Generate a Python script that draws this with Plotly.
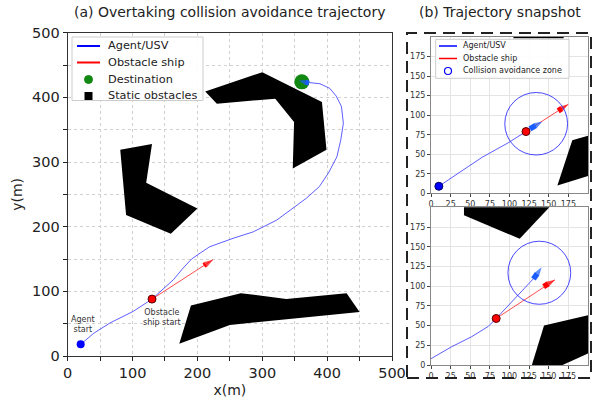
import plotly.graph_objects as go

W, H = 594, 406

# ---------------- data: main panel ----------------
agent_x = [20, 40, 65, 101, 130, 147, 163, 178, 191, 204, 219, 255, 286, 322, 343, 368, 388, 402, 415, 421, 425, 422, 414, 404, 389, 374, 362]
agent_y = [18, 35, 51, 69, 88, 103, 118, 136, 150, 159, 169, 182, 192, 210, 226, 244, 262, 283, 308, 334, 360, 386, 402, 414, 421, 423, 424]
obst_x = [130, 224]
obst_y = [88, 149]
obst_boat_x = [210, 224]
obst_boat_y = [140, 149]
dest_x = [361]
dest_y = [424]
agent_boat_main_x = [372, 356]
agent_boat_main_y = [422, 426]

obstacle_a_x = [212, 300, 392, 399, 347, 349, 320, 230]
obstacle_a_y = [409, 439, 393, 319, 290, 362, 398, 390]
obstacle_b_x = [81, 130, 121, 200, 159, 90]
obstacle_b_y = [319, 328, 268, 228, 189, 218]
obstacle_c_x = [190, 267, 277, 337, 430, 450, 250, 172]
obstacle_c_y = [78, 97, 96, 88, 97, 68, 48, 19]

main_ticks = list(range(0, 501, 50))
main_ticktext = [str(v) if v % 100 == 0 else "" for v in main_ticks]

main_legend_labels = ["Agent/USV", "Obstacle ship", "Destination", "Static obstacles"]
snap_legend_labels = ["Agent/USV", "Obstacle ship", "Collision avoidance zone"]

# ---------------- data: snapshot 1 ----------------
s1_agent_x = [10, 39, 65, 99, 121, 130]
s1_agent_y = [9, 29, 46, 65, 79, 86]
s1_boat_x = [126, 142]
s1_boat_y = [82.5, 92]
s1_obst_x = [121, 175]
s1_obst_y = [79, 114]
s1_obst_boat_x = [162, 175]
s1_obst_boat_y = [105.5, 114]
s1_zone = (134, 89, 40)
s1_obs1_x = [161, 180, 222, 222]
s1_obs1_y = [10, 68, 80, 29]
s1_obs2_x = [105, 169, 169, 105]
s1_obs2_y = [198.3, 198.3, 215, 215]

# ---------------- data: snapshot 2 ----------------
s2_agent_x = [0, 26, 52, 73, 83, 131]
s2_agent_y = [8, 23, 36, 49, 59, 110]
s2_boat_x = [130.5, 141]
s2_boat_y = [109, 124]
s2_obst_x = [83, 158]
s2_obst_y = [59, 108]
s2_obst_boat_x = [143.5, 158]
s2_obst_boat_y = [99.5, 108]
s2_zone = (138, 117, 40)
s2_obs1_x = [42, 113, 162, 42]
s2_obs1_y = [190, 160, 212, 212]
s2_obs2_x = [126, 144, 225, 225, 150]
s2_obs2_y = [-8, 50, 69, 26, -8]

snap_ticks = list(range(0, 176, 25))

BLUE_LINE = "rgba(40,40,255,0.75)"
RED_LINE = "rgba(255,0,0,0.7)"
BOAT_BLUE = "#1a5cff"

fig = go.Figure()


def poly(x, y, xa, ya):
    fig.add_trace(go.Scatter(x=x, y=y, fill="toself", fillcolor="black", mode="lines",
                             line=dict(width=0, color="black"), xaxis=xa, yaxis=ya,
                             showlegend=False, hoverinfo="skip"))


def boat(x, y, color, xa, ya, size=9, width=4):
    fig.add_trace(go.Scatter(x=x, y=y, mode="lines+markers", xaxis=xa, yaxis=ya,
                             line=dict(color=color, width=width),
                             marker=dict(symbol="arrow", size=[0, size], color=color,
                                         angleref="previous", line=dict(width=0)),
                             showlegend=False, hoverinfo="skip"))


# ---- main panel ----
for ox, oy in [(obstacle_a_x, obstacle_a_y), (obstacle_b_x, obstacle_b_y), (obstacle_c_x, obstacle_c_y)]:
    poly(ox, oy, "x", "y")

fig.add_trace(go.Scatter(x=agent_x, y=agent_y, mode="lines", line=dict(color=BLUE_LINE, width=1),
                         xaxis="x", yaxis="y", showlegend=False))
fig.add_trace(go.Scatter(x=obst_x, y=obst_y, mode="lines", line=dict(color=RED_LINE, width=1),
                         xaxis="x", yaxis="y", showlegend=False))
boat(obst_boat_x, obst_boat_y, "#ff0000", "x", "y", size=10, width=5)
fig.add_trace(go.Scatter(x=dest_x, y=dest_y, mode="markers",
                         marker=dict(color="#118811", size=15),
                         xaxis="x", yaxis="y", showlegend=False))
boat(agent_boat_main_x, agent_boat_main_y, BOAT_BLUE, "x", "y", size=8, width=5)
fig.add_trace(go.Scatter(x=[agent_x[0]], y=[agent_y[0]], mode="markers",
                         marker=dict(color="#0000ff", size=8), xaxis="x", yaxis="y", showlegend=False))
fig.add_trace(go.Scatter(x=[obst_x[0]], y=[obst_y[0]], mode="markers",
                         marker=dict(color="#ff0000", size=8, line=dict(color="#550000", width=1)),
                         xaxis="x", yaxis="y", showlegend=False))

# ---- snapshots ----
for (xa, ya, ag_x, ag_y, b_x, b_y, o_x, o_y, ob_x, ob_y, zone, polys) in [
    ("x2", "y2", s1_agent_x, s1_agent_y, s1_boat_x, s1_boat_y, s1_obst_x, s1_obst_y,
     s1_obst_boat_x, s1_obst_boat_y, s1_zone, [(s1_obs1_x, s1_obs1_y), (s1_obs2_x, s1_obs2_y)]),
    ("x3", "y3", s2_agent_x, s2_agent_y, s2_boat_x, s2_boat_y, s2_obst_x, s2_obst_y,
     s2_obst_boat_x, s2_obst_boat_y, s2_zone, [(s2_obs1_x, s2_obs1_y), (s2_obs2_x, s2_obs2_y)]),
]:
    for px, py in polys:
        poly(px, py, xa, ya)
    fig.add_trace(go.Scatter(x=ag_x, y=ag_y, mode="lines", line=dict(color=BLUE_LINE, width=1),
                             xaxis=xa, yaxis=ya, showlegend=False))
    fig.add_trace(go.Scatter(x=o_x, y=o_y, mode="lines", line=dict(color=RED_LINE, width=1),
                             xaxis=xa, yaxis=ya, showlegend=False))
    boat(b_x, b_y, BOAT_BLUE, xa, ya, size=9, width=5.5)
    boat(ob_x, ob_y, "#ff0000", xa, ya, size=9, width=5.5)
    fig.add_trace(go.Scatter(x=[o_x[0]], y=[o_y[0]], mode="markers",
                             marker=dict(color="#ff0000", size=8, line=dict(color="#550000", width=1)),
                             xaxis=xa, yaxis=ya, showlegend=False))
    cx, cy, r = zone
    fig.add_shape(type="circle", xref=xa, yref=ya, x0=cx - r, x1=cx + r, y0=cy - r, y1=cy + r,
                  line=dict(color="rgba(40,40,255,0.85)", width=1))

fig.add_trace(go.Scatter(x=[s1_agent_x[0]], y=[s1_agent_y[0]], mode="markers",
                         marker=dict(color="#0000ff", size=8, line=dict(color="#000055", width=1)),
                         xaxis="x2", yaxis="y2", showlegend=False))

# ---------------- layout ----------------
def px_x(p):
    return p / W


def px_y(p):
    return 1 - p / H


main_axis = dict(range=[0, 500], tickvals=main_ticks, ticktext=main_ticktext, ticks="outside",
                 ticklen=4, tickcolor="#222", showline=True, mirror=True, linecolor="#333", linewidth=1,
                 showgrid=True, gridcolor="#d0d0d0", griddash="dot", gridwidth=1, zeroline=False,
                 tickfont=dict(size=14.5, color="#222"), automargin=False)

snap_axis = dict(range=[0, 200], tickvals=snap_ticks, ticks="outside", ticklen=3, tickcolor="#444",
                 showline=True, mirror=True, linecolor="#888", linewidth=1, showgrid=True,
                 gridcolor="#e4e4e4", gridwidth=1, zeroline=False, tickfont=dict(size=8, color="#333"),
                 automargin=False)

fig.update_layout(
    width=W, height=H, margin=dict(l=0, r=0, t=0, b=0, autoexpand=False),
    paper_bgcolor="white", plot_bgcolor="white",
    font=dict(family="DejaVu Sans", color="#222"),
    xaxis=dict(main_axis, domain=[px_x(67.7), px_x(392)], anchor="y",
               title=dict(text="x(m)", font=dict(size=14), standoff=4)),
    yaxis=dict(main_axis, domain=[px_y(356), px_y(32.7)], anchor="x",
               title=dict(text="y(m)", font=dict(size=14), standoff=6)),
    xaxis2=dict(snap_axis, domain=[px_x(431), px_x(588)], anchor="y2"),
    yaxis2=dict(snap_axis, domain=[px_y(193.3), px_y(37)], anchor="x2"),
    xaxis3=dict(snap_axis, domain=[px_x(431), px_x(588)], anchor="y3"),
    yaxis3=dict(snap_axis, domain=[px_y(365), px_y(207.3)], anchor="x3"),
    showlegend=False,
)

# ---- manual legends (paper coordinates) ----
def paper_shape(**kw):
    fig.add_shape(xref="paper", yref="paper", layer="above", **kw)


def legend_text(text, x, y, size):
    fig.add_annotation(text=text, xref="paper", yref="paper", x=px_x(x), y=px_y(y),
                       xanchor="left", yanchor="middle", showarrow=False,
                       font=dict(size=size, color="#222"))


# main legend box
paper_shape(type="rect", x0=px_x(72), x1=px_x(203), y0=px_y(100.5), y1=px_y(37),
            line=dict(color="#cccccc", width=1), fillcolor="rgba(255,255,255,0.9)")
main_rows = [46, 62.5, 79.5, 96]
paper_shape(type="line", x0=px_x(77), x1=px_x(100), y0=px_y(main_rows[0]), y1=px_y(main_rows[0]),
            line=dict(color="#0000ff", width=2))
paper_shape(type="line", x0=px_x(77), x1=px_x(100), y0=px_y(main_rows[1]), y1=px_y(main_rows[1]),
            line=dict(color="#ff0000", width=2))
paper_shape(type="circle", x0=px_x(84.5), x1=px_x(92.5), y0=px_y(main_rows[2] + 4), y1=px_y(main_rows[2] - 4),
            line=dict(color="#118811", width=1), fillcolor="#118811")
paper_shape(type="rect", x0=px_x(84.5), x1=px_x(92.5), y0=px_y(main_rows[3] + 4), y1=px_y(main_rows[3] - 4),
            line=dict(color="black", width=0), fillcolor="black")
for lab, ry in zip(main_legend_labels, main_rows):
    legend_text(lab, 106, ry, 11.3)

# snapshot legend box
paper_shape(type="rect", x0=px_x(435.7), x1=px_x(569), y0=px_y(78.3), y1=px_y(39.3),
            line=dict(color="#cccccc", width=1), fillcolor="rgba(255,255,255,0.9)")
snap_rows = [46, 58.5, 71]
paper_shape(type="line", x0=px_x(439), x1=px_x(457), y0=px_y(snap_rows[0]), y1=px_y(snap_rows[0]),
            line=dict(color="#0000ff", width=1.5))
paper_shape(type="line", x0=px_x(439), x1=px_x(457), y0=px_y(snap_rows[1]), y1=px_y(snap_rows[1]),
            line=dict(color="#ff0000", width=1.5))
paper_shape(type="circle", x0=px_x(444.5), x1=px_x(451.5), y0=px_y(snap_rows[2] + 3.5), y1=px_y(snap_rows[2] - 3.5),
            line=dict(color="#0000ff", width=1.2))
for lab, ry in zip(snap_legend_labels, snap_rows):
    legend_text(lab, 461, ry, 8)

fig.add_annotation(text="(a) Overtaking collision avoidance trajectory", xref="paper", yref="paper",
                   x=px_x(229), y=px_y(12), showarrow=False, font=dict(size=14, color="#222"),
                   xanchor="center", yanchor="middle")
fig.add_annotation(text="(b) Trajectory snapshot", xref="paper", yref="paper",
                   x=px_x(500), y=px_y(12), showarrow=False, font=dict(size=14, color="#222"),
                   xanchor="center", yanchor="middle")
fig.add_annotation(text="Agent<br>start", xref="x", yref="y", x=24, y=48, showarrow=False,
                   font=dict(size=8, color="#333"))
fig.add_annotation(text="Obstacle<br>ship start", xref="x", yref="y", x=145, y=59, showarrow=False,
                   font=dict(size=8, color="#333"))

fig.add_shape(type="rect", xref="paper", yref="paper", x0=px_x(407), x1=px_x(591),
              y0=px_y(378), y1=px_y(33), line=dict(color="#222", width=2, dash="12px,7px"),
              fillcolor="rgba(0,0,0,0)", layer="above")

fig.write_html("out.html")
